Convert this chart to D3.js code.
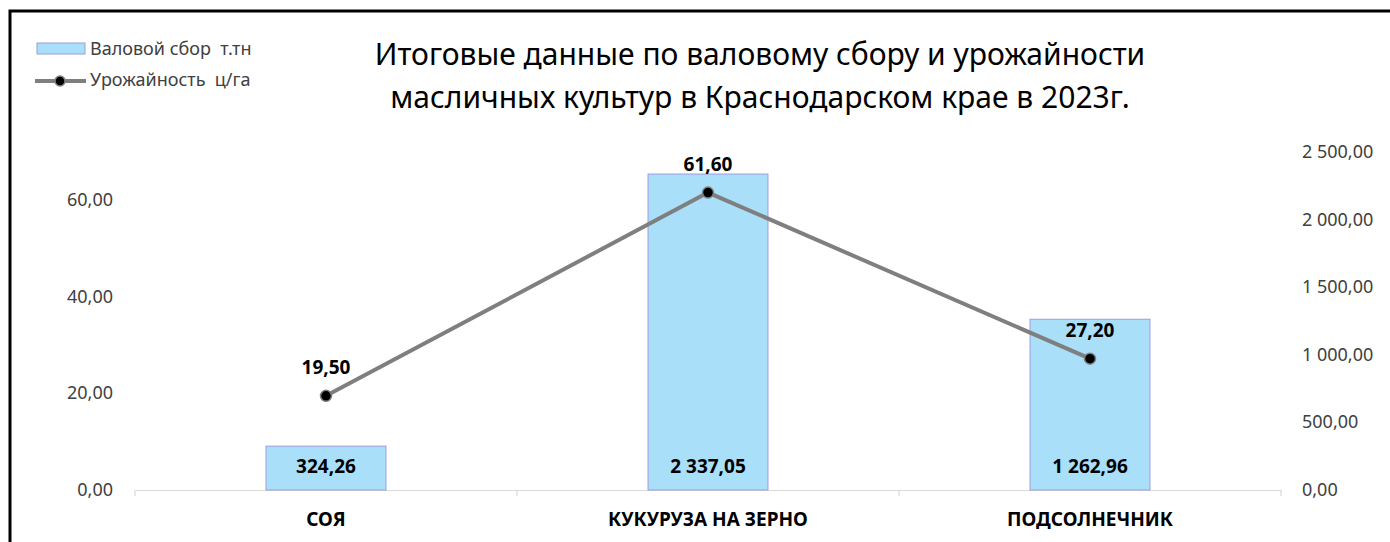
<!DOCTYPE html>
<html lang="ru">
<head>
<meta charset="UTF-8">
<title>Валовой сбор и урожайность</title>
<script src="https://cdn.jsdelivr.net/npm/d3@7"></script>
<style>
    body { margin: 0; background: #fff; font-family: "Noto Sans", "Open Sans", sans-serif; }
    svg { display: block; }
    text { white-space: pre; }
    .tick-label { fill: #404040; font-size: 18px; }
    .data-label { fill: #000; font-size: 19px; font-weight: bold; }
    .cat-label { fill: #000; font-size: 19px; font-weight: bold; }
</style>
</head>
<body>
<svg id="chart" width="1390" height="542"></svg>
<script>
    const categories = ["СОЯ", "КУКУРУЗА НА ЗЕРНО", "ПОДСОЛНЕЧНИК"];
    const grossHarvest = [324.26, 2337.05, 1262.96];   // т.тн, right axis
    const yieldValues = [19.50, 61.60, 27.20];          // ц/га, left axis
    const leftTicks = [0, 20, 40, 60];
    const rightTicks = [0, 500, 1000, 1500, 2000, 2500];
    const titleLines = ["Итоговые данные по валовому сбору и урожайности",
                        "масличных культур в Краснодарском крае в 2023г."];
    const legendLabels = ["Валовой сбор  т.тн", "Урожайность  ц/га"];

    const ru = d3.formatLocale({ decimal: ",", thousands: " ", grouping: [3], currency: ["", ""] });
    const fmt = ru.format(",.2f");

    const svg = d3.select("#chart");
    const plot = { left: 135, right: 1281, top: 152, bottom: 490 };

    // chart frame (right/bottom edges are outside the window)
    svg.append("rect")
        .attr("x", 10).attr("y", 11)
        .attr("width", 1500).attr("height", 600)
        .attr("fill", "none").attr("stroke", "#000").attr("stroke-width", 3);

    const x = d3.scaleBand().domain(categories).range([plot.left, plot.right]).padding(0);
    const yLeft = d3.scaleLinear().domain([0, 70]).range([plot.bottom, plot.top]);
    const yRight = d3.scaleLinear().domain([0, 2500]).range([plot.bottom, plot.top]);

    // left axis labels
    svg.append("g").selectAll("text").data(leftTicks).join("text")
        .attr("class", "tick-label")
        .attr("x", 113).attr("y", d => yLeft(d) + 6)
        .attr("text-anchor", "end")
        .text(d => fmt(d));

    // right axis labels
    svg.append("g").selectAll("text").data(rightTicks).join("text")
        .attr("class", "tick-label")
        .attr("x", 1302).attr("y", d => yRight(d) + 6)
        .text(d => fmt(d));

    // category axis
    const xAxis = svg.append("g").attr("transform", `translate(0,${plot.bottom})`)
        .call(d3.axisBottom(x).tickSize(0).tickFormat(""));
    xAxis.select(".domain").attr("stroke", "#d9d9d9").attr("stroke-width", 1.2);
    const bounds = categories.map(c => x(c)).concat([plot.right]);
    svg.append("g").selectAll("line").data(bounds).join("line")
        .attr("x1", d => d).attr("x2", d => d)
        .attr("y1", plot.bottom).attr("y2", plot.bottom + 6)
        .attr("stroke", "#d9d9d9").attr("stroke-width", 1.2);

    // bars
    const barW = x.bandwidth() * 0.314;
    svg.append("g").selectAll("rect").data(grossHarvest).join("rect")
        .attr("x", (d, i) => x(categories[i]) + (x.bandwidth() - barW) / 2)
        .attr("y", d => yRight(d))
        .attr("width", barW)
        .attr("height", d => plot.bottom - yRight(d))
        .attr("fill", "#aadff9")
        .attr("stroke", "#9c9ce0").attr("stroke-width", 1);

    const cx = i => x(categories[i]) + x.bandwidth() / 2;

    // line
    const line = d3.line().x((d, i) => cx(i)).y(d => yLeft(d));
    svg.append("path").datum(yieldValues)
        .attr("d", line)
        .attr("fill", "none").attr("stroke", "#7f7f7f").attr("stroke-width", 4);
    svg.append("g").selectAll("circle").data(yieldValues).join("circle")
        .attr("cx", (d, i) => cx(i)).attr("cy", d => yLeft(d)).attr("r", 5.5)
        .attr("fill", "#000").attr("stroke", "#7f7f7f").attr("stroke-width", 1.5);

    // data labels
    svg.append("g").selectAll("text").data(grossHarvest).join("text")
        .attr("class", "data-label")
        .attr("x", (d, i) => cx(i)).attr("y", plot.bottom - 17)
        .attr("text-anchor", "middle")
        .text(d => fmt(d));
    svg.append("g").selectAll("text").data(yieldValues).join("text")
        .attr("class", "data-label")
        .attr("x", (d, i) => cx(i)).attr("y", d => yLeft(d) - 22)
        .attr("text-anchor", "middle")
        .text(d => fmt(d));

    // category labels
    svg.append("g").selectAll("text").data(categories).join("text")
        .attr("class", "cat-label")
        .attr("x", (d, i) => cx(i)).attr("y", 526)
        .attr("text-anchor", "middle")
        .text(d => d);

    // title
    svg.append("g").selectAll("text").data(titleLines).join("text")
        .attr("x", 760).attr("y", (d, i) => 65 + i * 43)
        .attr("text-anchor", "middle")
        .attr("font-size", 30).attr("fill", "#000")
        .text(d => d);

    // legend
    const lg = svg.append("g");
    lg.append("rect").attr("x", 37).attr("y", 43).attr("width", 48).attr("height", 11)
        .attr("fill", "#aadff9").attr("stroke", "#9c9ce0");
    lg.append("line").attr("x1", 35).attr("x2", 86).attr("y1", 81).attr("y2", 81)
        .attr("stroke", "#7f7f7f").attr("stroke-width", 4);
    lg.append("circle").attr("cx", 60).attr("cy", 81).attr("r", 5)
        .attr("fill", "#000").attr("stroke", "#7f7f7f").attr("stroke-width", 1.5);
    lg.selectAll("text").data(legendLabels).join("text")
        .attr("x", 90).attr("y", (d, i) => 55 + i * 31)
        .attr("font-size", 18).attr("fill", "#404040")
        .text(d => d);
</script>
</body>
</html>
